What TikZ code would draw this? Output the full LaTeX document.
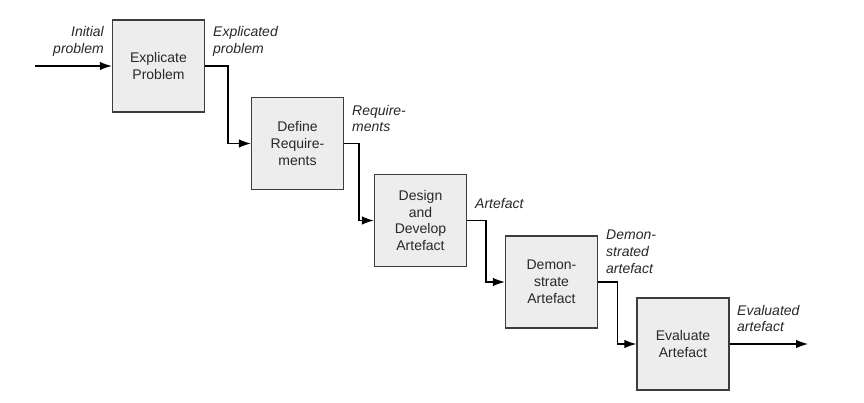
\documentclass[tikz,border=0pt]{standalone}
\usepackage{fontspec}
\setmainfont{Liberation Sans}
\usetikzlibrary{arrows.meta,calc}
\definecolor{boxfill}{RGB}{237,237,237}
\definecolor{boxline}{RGB}{60,60,60}
\definecolor{txt}{RGB}{40,40,40}
\tikzset{
  stepbox/.style={draw=boxline, fill=boxfill, line width=1.3pt, minimum width=92pt, minimum height=92pt,
    inner sep=0pt, align=center, text=txt, font=\fontsize{14}{16.8}\selectfont},
  lbl/.style={inner sep=0pt, text=txt, font=\fontsize{14}{16.8}\selectfont\itshape},
  flow/.style={line width=1.2pt, draw=black, -{Latex[length=12pt,width=8.5pt]}}
}
\begin{document}
\begin{tikzpicture}[x=1pt,y=-1pt]
\useasboundingbox (0,0) rectangle (864,403);
\node[stepbox] (b1) at (158.5,66) {Explicate\\Problem};
\node[stepbox] (b2) at (297.5,143.5) {Define\\Require-\\ments};
\node[stepbox] (b3) at (420.5,220.5) {Design\\and\\Develop\\Artefact};
\node[stepbox] (b4) at (551.5,282) {Demon-\\strate\\Artefact};
\node[stepbox] (b5) at (683,344) {Evaluate\\Artefact};
\coordinate (in) at (35,66);
\coordinate (out) at (808,344);
\node[lbl, anchor=east, align=right] (l0) at (104,41.5) {Initial\\problem};
\node[lbl, anchor=west, align=left] (l1) at (213,41.5) {Explicated\\problem};
\node[lbl, anchor=west, align=left] (l2) at (352,118.5) {Require-\\ments};
\node[lbl, anchor=west, align=left] (l3) at (475,203) {Artefact};
\node[lbl, anchor=west, align=left] (l4) at (606,252) {Demon-\\strated\\artefact};
\node[lbl, anchor=west, align=left] (l5) at (737,318.5) {Evaluated\\artefact};
\draw[flow] (in) -- (b1.west);
\draw[flow] (b1.east) -| ($(b1.east)!0.5!(b2.west)$) |- (b2.west);
\draw[flow] (b2.east) -| ($(b2.east)!0.5!(b3.west)$) |- (b3.west);
\draw[flow] (b3.east) -| ($(b3.east)!0.5!(b4.west)$) |- (b4.west);
\draw[flow] (b4.east) -| ($(b4.east)!0.5!(b5.west)$) |- (b5.west);
\draw[flow] (b5.east) -- (out);
\end{tikzpicture}
\end{document}
